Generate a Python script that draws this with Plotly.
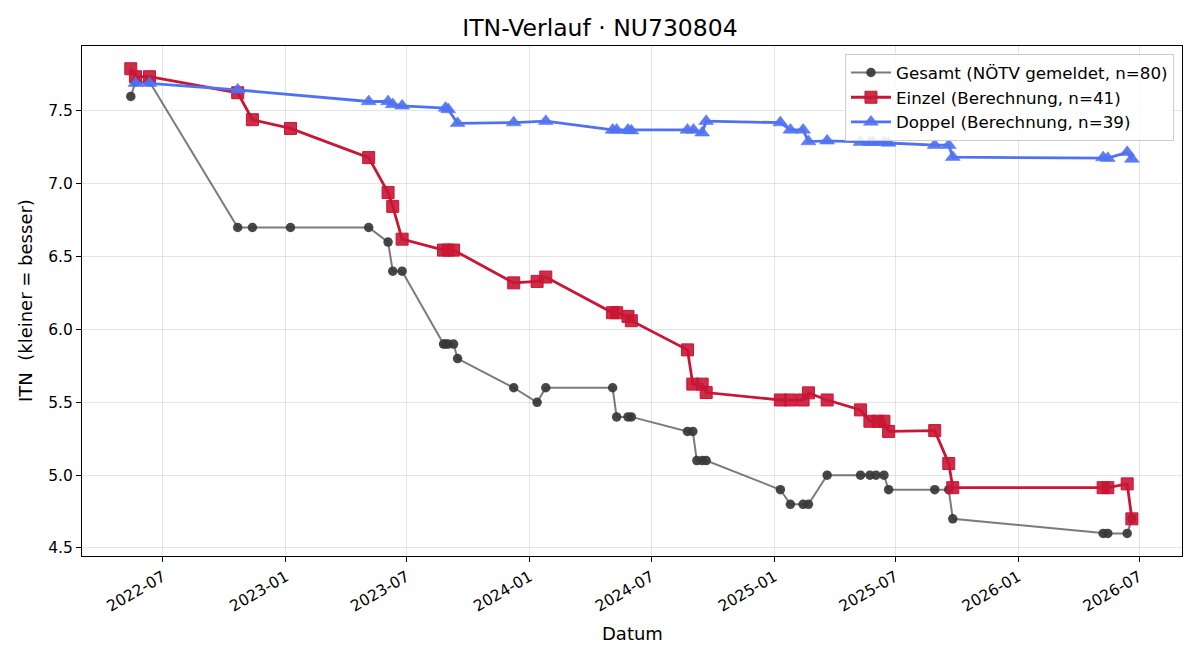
import plotly.graph_objects as go

# ---------------- data ----------------
gesamt_dates = [
    "2022-05-14", "2022-05-21", "2022-06-11", "2022-10-21", "2022-11-12", "2023-01-08",
    "2023-05-05", "2023-06-03", "2023-06-10", "2023-06-24", "2023-08-25", "2023-08-28",
    "2023-09-01", "2023-09-09", "2023-09-15", "2023-12-08", "2024-01-12", "2024-01-25",
    "2024-05-04", "2024-05-10", "2024-05-27", "2024-06-01", "2024-08-24", "2024-09-01",
    "2024-09-07", "2024-09-15", "2024-09-21", "2025-01-10", "2025-01-25", "2025-02-13",
    "2025-02-21", "2025-03-21", "2025-05-10", "2025-05-24", "2025-06-02", "2025-06-14",
    "2025-06-21", "2025-08-29", "2025-09-19", "2025-09-25", "2026-05-08", "2026-05-15",
    "2026-06-13", "2026-06-20",
]
gesamt_itn = [
    7.60, 7.70, 7.70, 6.70, 6.70, 6.70,
    6.70, 6.60, 6.40, 6.40, 5.90, 5.90,
    5.90, 5.90, 5.80, 5.60, 5.50, 5.60,
    5.60, 5.40, 5.40, 5.40, 5.30, 5.30,
    5.10, 5.10, 5.10, 4.90, 4.80, 4.80,
    4.80, 5.00, 5.00, 5.00, 5.00, 5.00,
    4.90, 4.90, 4.90, 4.70, 4.60, 4.60,
    4.60, 4.70,
]

einzel_dates = [
    "2022-05-14", "2022-05-21", "2022-06-11", "2022-10-21", "2022-11-12", "2023-01-08",
    "2023-05-05", "2023-06-03", "2023-06-10", "2023-06-24", "2023-08-25", "2023-09-01",
    "2023-09-09", "2023-12-08", "2024-01-12", "2024-01-25", "2024-05-04", "2024-05-10",
    "2024-05-27", "2024-06-01", "2024-08-24", "2024-09-01", "2024-09-15", "2024-09-21",
    "2025-01-10", "2025-01-25", "2025-02-13", "2025-02-21", "2025-03-21", "2025-05-10",
    "2025-05-24", "2025-06-05", "2025-06-14", "2025-06-21", "2025-08-29", "2025-09-19",
    "2025-09-25", "2026-05-08", "2026-05-15", "2026-06-13", "2026-06-20",
]
einzel_itn = [
    7.79, 7.735, 7.735, 7.625, 7.44, 7.38,
    7.18, 6.94, 6.845, 6.62, 6.545, 6.545,
    6.545, 6.32, 6.33, 6.36, 6.115, 6.115,
    6.09, 6.06, 5.86, 5.625, 5.625, 5.567,
    5.516, 5.516, 5.516, 5.565, 5.516, 5.448,
    5.37, 5.37, 5.37, 5.30, 5.306, 5.08,
    4.914, 4.914, 4.914, 4.94, 4.70,
]

doppel_dates = [
    "2022-05-21", "2022-06-11", "2022-10-21", "2023-05-05", "2023-06-03", "2023-06-10",
    "2023-06-24", "2023-08-28", "2023-09-01", "2023-09-15", "2023-12-08", "2024-01-25",
    "2024-05-04", "2024-05-10", "2024-05-27", "2024-06-01", "2024-08-24", "2024-09-02",
    "2024-09-15", "2024-09-21", "2025-01-10", "2025-01-25", "2025-02-13", "2025-02-21",
    "2025-03-21", "2025-05-10", "2025-05-24", "2025-05-29", "2025-06-14", "2025-06-21",
    "2025-08-29", "2025-09-19", "2025-09-25", "2026-05-08", "2026-05-15", "2026-06-13",
    "2026-06-20",
]
doppel_itn = [
    7.69, 7.69, 7.645, 7.565, 7.565, 7.545,
    7.535, 7.52, 7.51, 7.415, 7.42, 7.43,
    7.37, 7.37, 7.37, 7.365, 7.37, 7.37,
    7.35, 7.43, 7.42, 7.37, 7.37, 7.29,
    7.295, 7.286, 7.286, 7.286, 7.286, 7.28,
    7.265, 7.265, 7.183, 7.18, 7.176, 7.216,
    7.17,
]

series_names = [
    "Gesamt (NÖTV gemeldet, n=80)",
    "Einzel (Berechnung, n=41)",
    "Doppel (Berechnung, n=39)",
]
y_ticks = [4.5, 5.0, 5.5, 6.0, 6.5, 7.0, 7.5]

FONT = "DejaVu Sans"

fig = go.Figure()

fig.add_trace(go.Scatter(
    x=gesamt_dates, y=gesamt_itn, name=series_names[0], mode="lines+markers",
    line=dict(color="rgba(60,60,60,0.68)", width=2),
    marker=dict(symbol="circle", size=9.5, color="rgba(55,55,55,0.92)",
                line=dict(width=0)),
))
fig.add_trace(go.Scatter(
    x=einzel_dates, y=einzel_itn, name=series_names[1], mode="lines+markers",
    line=dict(color="rgb(200,22,52)", width=2.8),
    marker=dict(symbol="square", size=12, color="rgba(200,22,52,0.9)",
                line=dict(width=1, color="rgb(200,22,52)")),
))
fig.add_trace(go.Scatter(
    x=doppel_dates, y=doppel_itn, name=series_names[2], mode="lines+markers",
    line=dict(color="rgb(80,114,242)", width=2.8),
    marker=dict(symbol="triangle-up", size=13, color="rgba(80,114,242,0.92)",
                line=dict(width=0.5, color="rgb(80,114,242)")),
))

fig.update_layout(
    width=1200, height=660,
    margin=dict(l=82, r=18, t=46, b=104),
    paper_bgcolor="white", plot_bgcolor="white",
    font=dict(family=FONT, size=15, color="black"),
    title=dict(text="ITN-Verlauf · NU730804", x=0.5, xanchor="center",
               y=1 - 28 / 660, yanchor="middle", yref="container",
               font=dict(family=FONT, size=23.5, color="black")),
    showlegend=True,
    legend=dict(x=0.9927, y=0.984, xanchor="right", yanchor="top",
                bgcolor="rgba(255,255,255,0.85)", bordercolor="#cccccc",
                borderwidth=1, font=dict(family=FONT, size=16.7),
                itemwidth=40),
    annotations=[
        dict(text="Datum", x=0.5, y=-0.151, xref="paper", yref="paper",
             showarrow=False, font=dict(family=FONT, size=18),
             xanchor="center", yanchor="middle"),
        dict(text="ITN \u00a0(kleiner = besser)", x=-0.0518, y=0.5, xref="paper",
             yref="paper", showarrow=False, textangle=-90,
             font=dict(family=FONT, size=18), xanchor="center", yanchor="middle"),
    ],
)

fig.update_xaxes(
    type="date", range=["2022-03-02", "2026-09-03"],
    tick0="2022-01-01", dtick="M6", tickformat="%Y-%m", tickangle=-30,
    showgrid=True, gridcolor="rgba(180,180,180,0.35)", gridwidth=1,
    showline=True, linecolor="black", linewidth=1.2, mirror=True,
    ticks="outside", ticklen=5, tickwidth=1, tickcolor="black",
    tickfont=dict(family=FONT, size=15.5), zeroline=False,
)
fig.update_yaxes(
    range=[4.445, 7.946], tickvals=y_ticks, tickformat=".1f",
    showgrid=True, gridcolor="rgba(180,180,180,0.35)", gridwidth=1,
    showline=True, linecolor="black", linewidth=1.2, mirror=True,
    ticks="outside", ticklen=5, tickwidth=1, tickcolor="black",
    tickfont=dict(family=FONT, size=15.5), zeroline=False,
)

fig.write_html("out.html")
